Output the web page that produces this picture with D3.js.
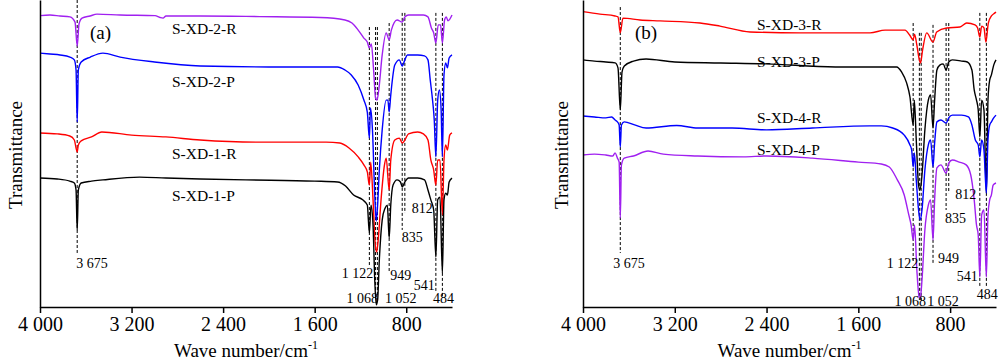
<!DOCTYPE html>
<html><head><meta charset="utf-8">
<script src="https://cdn.jsdelivr.net/npm/d3@7"></script>
<style>
body{margin:0;background:#fff}
svg{display:block}
text{font-family:"Liberation Serif","Times New Roman",serif;fill:#000}
</style>
</head><body>
<svg id="chart" width="1000" height="363"></svg>
<script>
// ---------- data (wavenumber cm^-1, transmittance offset a.u.) ----------
const xTicks = [4000, 3200, 2400, 1600, 800];

// Panel (a)
const xd2R = [[4000,94.9],[3913,95.1],[3825,94.8],[3738,94.5],[3694,92.8],[3675,85.0],[3659,92.2],[3633,94.1],[3563,94.8],[3502,95.4],[3300,95.1],[2995,94.9],[2951,94.3],[2925,94.1],[2899,94.8],[2600,94.8],[2080,94.6],[1550,94.3],[1335,93.5],[1274,92.5],[1220,90.2],[1170,87.6],[1140,86.3],[1122,84.4],[1105,85.7],[1085,77.2],[1068,68.1],[1055,67.4],[1040,70.7],[1010,82.1],[975,89.3],[949,87.0],[930,90.2],[880,93.5],[835,92.8],[812,94.5],[780,95.1],[650,95.1],[610,94.5],[580,90.9],[560,89.3],[541,86.0],[520,91.9],[500,91.9],[484,86.0],[465,93.5],[450,94.5],[435,93.2],[400,95.1]];
const xd2P = [[4000,82.7],[3913,82.4],[3825,82.1],[3738,81.4],[3700,80.5],[3685,77.2],[3675,60.3],[3665,77.2],[3640,79.8],[3560,81.4],[3450,82.7],[3300,81.4],[3000,79.8],[2600,78.5],[2000,78.2],[1400,78.2],[1335,77.2],[1280,75.6],[1220,72.3],[1170,67.4],[1140,63.5],[1122,55.0],[1112,64.8],[1095,57.7],[1075,36.5],[1062,28.0],[1050,33.2],[1035,44.6],[1010,57.7],[975,67.4],[960,67.4],[949,63.5],[935,69.1],[900,78.8],[860,80.5],[835,78.5],[812,80.5],[790,82.1],[700,82.1],[640,81.8],[610,80.5],[590,73.9],[570,67.4],[555,60.9],[541,48.9],[525,67.4],[510,70.7],[495,64.2],[484,48.9],[470,75.6],[455,79.5],[440,77.9],[425,81.1],[400,82.1]];
const xd1R = [[4000,56.7],[3850,56.4],[3740,55.7],[3700,54.4],[3685,51.8],[3675,50.5],[3665,52.8],[3640,54.1],[3550,55.4],[3460,57.0],[3200,56.0],[2900,55.4],[2600,54.4],[2100,53.7],[1500,53.7],[1380,53.4],[1300,51.8],[1220,48.9],[1170,46.3],[1140,44.0],[1122,39.7],[1110,47.2],[1090,34.9],[1070,20.2],[1058,17.9],[1045,21.8],[1020,34.9],[990,46.3],[975,48.5],[949,38.1],[935,47.9],[900,54.4],[860,55.0],[835,53.4],[812,54.4],[780,56.4],[700,57.0],[650,56.4],[610,54.4],[585,47.9],[560,44.6],[541,39.7],[525,47.9],[505,47.9],[484,30.0],[470,47.9],[455,52.8],[440,51.1],[420,56.0],[400,56.7]];
const xd1P = [[4000,42.0],[3850,41.7],[3740,41.0],[3700,40.4],[3685,38.1],[3675,25.1],[3665,38.1],[3640,40.4],[3550,41.0],[3450,41.4],[3130,42.3],[2900,42.0],[2600,41.7],[2200,41.4],[1600,41.0],[1400,40.7],[1330,39.4],[1260,36.5],[1180,34.9],[1140,33.2],[1122,24.1],[1108,33.2],[1090,26.7],[1075,8.8],[1062,0.7],[1050,2.3],[1035,15.3],[1010,28.3],[985,32.2],[965,33.2],[949,22.5],[935,33.2],[915,39.7],[880,41.4],[850,40.7],[835,39.1],[812,40.7],[780,42.0],[700,42.0],[640,41.4],[610,38.1],[585,34.9],[560,31.6],[541,16.3],[525,34.9],[505,35.8],[484,11.1],[470,34.9],[455,37.1],[440,36.5],[425,40.7],[400,42.0]];

// Panel (b)
const xd3R = [[4000,96.2],[3852,95.4],[3721,94.8],[3695,94.5],[3675,89.3],[3652,94.1],[3503,93.5],[3329,93.2],[2980,92.5],[2806,91.5],[2544,89.6],[2108,89.3],[1498,89.3],[1367,90.2],[1193,90.2],[1153,88.6],[1122,87.0],[1110,88.9],[1090,85.3],[1068,80.5],[1058,79.5],[1040,83.7],[1004,89.3],[949,86.3],[917,89.6],[830,90.9],[714,91.2],[655,92.5],[583,91.9],[560,90.9],[541,87.9],[525,91.5],[505,90.9],[488,86.3],[467,92.5],[440,94.8],[409,95.8],[400,96.1]];
const xd3P = [[4000,80.5],[3900,80.1],[3800,79.8],[3720,79.5],[3695,77.9],[3675,64.2],[3660,76.5],[3640,78.5],[3560,80.1],[3450,80.8],[3200,79.8],[2800,79.5],[2400,79.2],[1800,78.2],[1420,78.2],[1266,78.2],[1222,76.5],[1179,73.0],[1150,68.4],[1122,59.3],[1112,67.4],[1095,54.4],[1075,39.7],[1062,38.1],[1045,43.0],[1020,57.7],[990,67.4],[970,69.1],[949,58.3],[935,67.4],[915,77.2],[890,78.8],[860,79.2],[835,77.2],[812,79.8],[780,80.5],[700,80.1],[650,79.8],[610,77.2],[590,70.7],[570,67.4],[555,64.2],[541,55.4],[525,67.4],[505,64.2],[484,37.1],[470,67.4],[455,73.9],[440,75.6],[420,78.8],[400,80.5]];
const xd4R = [[4000,62.2],[3900,61.9],[3800,61.6],[3750,61.9],[3720,60.9],[3700,60.3],[3685,59.3],[3675,52.1],[3665,59.3],[3640,60.3],[3550,59.3],[3450,58.3],[3183,59.1],[3000,58.3],[2700,58.3],[2400,57.7],[2000,58.3],[1500,59.0],[1400,59.0],[1300,58.3],[1200,56.0],[1150,52.8],[1135,51.1],[1122,45.6],[1112,50.2],[1095,41.4],[1075,31.6],[1062,28.3],[1045,31.6],[1020,44.6],[990,52.8],[970,54.4],[949,45.6],[935,53.4],[915,60.3],[880,60.9],[835,59.9],[812,61.6],[780,62.5],[700,62.5],[640,61.9],[610,59.3],[580,54.4],[555,52.8],[541,48.9],[525,54.4],[505,51.1],[484,37.1],[470,54.4],[455,59.3],[440,60.3],[420,61.6],[400,62.5]];
const xd4P = [[4000,49.5],[3900,49.8],[3800,49.5],[3740,49.2],[3720,50.2],[3700,48.5],[3685,47.2],[3675,29.0],[3665,46.3],[3640,48.5],[3560,49.2],[3433,50.8],[3300,49.8],[3000,49.2],[2600,48.9],[2400,49.2],[2000,48.5],[1600,47.2],[1400,46.6],[1330,45.6],[1260,41.4],[1200,36.5],[1160,30.0],[1140,26.7],[1122,21.8],[1110,26.7],[1090,12.1],[1070,3.3],[1060,2.9],[1045,8.8],[1020,25.1],[990,33.2],[970,34.9],[949,21.8],[935,34.9],[915,45.3],[880,46.3],[835,43.6],[812,46.9],[780,47.9],[720,47.2],[660,46.3],[620,43.0],[590,34.9],[570,26.7],[555,23.5],[541,9.8],[525,30.0],[505,31.6],[484,9.8],[470,30.0],[455,34.9],[440,36.5],[425,39.7],[400,40.4]];

// Marked bands: [wavenumber, line top, line bottom] (a.u.)
const peaksA = [[3675,100,17.6],[1122,91.2,13.0],[1068,91.2,3.3],[1052,91.2,3.3],[949,92.5,11.1],[835,95.8,25.1],[812,95.8,30.6],[541,95.8,4.6],[484,95.8,3.3]];
const peaksB = [[3675,97.7,17.6],[1122,92.5,14.3],[1068,89.3,2.3],[1052,89.3,2.3],[949,91.9,14.3],[835,92.5,31.6],[812,92.5,37.1],[541,95.8,6.5],[484,95.8,6.5]];
const bandLabels = ["3 675","1 122","1 068","1 052","949","835","812","541","484"];

const seriesNamesA = ["S-XD-2-R","S-XD-2-P","S-XD-1-R","S-XD-1-P"];
const seriesNamesB = ["S-XD-3-R","S-XD-3-P","S-XD-4-R","S-XD-4-P"];

// ---------- layout / style ----------
const PURPLE = "#a020f0", BLUE = "#0000ff", RED = "#ff0000", BLACK = "#000000";
const svg = d3.select("#chart");
const axisY = 307;
const yScale = d3.scaleLinear().domain([0, 100]).range([axisY, 0]);
const fmt = d => d3.format(",")(d).replace(",", " ");

// label placement: [dx px, anchor, y (a.u.)]
const labelPosA = [[-1,"start",12.7],[4,"end",9.4],[2.5,"end",1.3],[7.6,"start",1.3],[1,"start",8.8],[-0.5,"start",21.2],[7,"start",30.6],[-1,"end",5.5],[-9.5,"start",1.3]];
const labelPosB = [[-7,"start",12.7],[5,"end",12.7],[6.7,"end",0.3],[6,"start",0.3],[5,"start",14.3],[-1,"start",27.4],[6.5,"start",35.2],[-2,"end",8.5],[-9.5,"start",2.6]];

const panels = [
  {x0:40, x1:452, series:[xd2R,xd2P,xd1R,xd1P], colors:[PURPLE,BLUE,RED,BLACK], names:seriesNamesA,
   nameX:172, nameY:[34,87,159,201], tag:"(a)", tagX:90, tagY:39, peaks:peaksA, lpos:labelPosA, ylabX:22},
  {x0:583, x1:996, series:[xd3R,xd3P,xd4R,xd4P], colors:[RED,BLACK,BLUE,PURPLE], names:seriesNamesB,
   nameX:757, nameY:[30,67,123,155], tag:"(b)", tagX:635, tagY:39, peaks:peaksB, lpos:labelPosB, ylabX:568}
];

panels.forEach(p => {
  const x = d3.scaleLinear().domain([4000, 400]).range([p.x0, p.x1]);
  const g = svg.append("g");

  // dashed band markers
  g.selectAll("line.band").data(p.peaks).join("line")
    .attr("class","band")
    .attr("x1", d => x(d[0])).attr("x2", d => x(d[0]))
    .attr("y1", d => yScale(d[1])).attr("y2", d => yScale(d[2]))
    .attr("stroke","#000").attr("stroke-width",1).attr("stroke-dasharray","3,2");

  // spectra
  const line = d3.line().x(d => x(d[0])).y(d => yScale(d[1])).curve(d3.curveMonotoneX);
  p.series.forEach((s, i) => {
    g.append("path").datum(s).attr("d", line)
      .attr("fill","none").attr("stroke", p.colors[i]).attr("stroke-width",1.4)
      .attr("stroke-linejoin","round");
  });

  // band labels
  g.selectAll("text.band").data(p.peaks).join("text")
    .attr("class","band")
    .attr("x", (d,i) => x(d[0]) + p.lpos[i][0])
    .attr("y", (d,i) => yScale(p.lpos[i][2]))
    .attr("text-anchor", (d,i) => p.lpos[i][1])
    .attr("font-size", 14)
    .text((d,i) => bandLabels[i]);

  // series names
  p.names.forEach((n, i) => {
    g.append("text").attr("x", p.nameX).attr("y", p.nameY[i]).attr("font-size", 15.5).text(n);
  });
  g.append("text").attr("x", p.tagX).attr("y", p.tagY).attr("font-size", 19).text(p.tag);

  // axes
  const xAxis = d3.axisBottom(x).tickValues(xTicks).tickFormat(fmt).tickSizeInner(6).tickSizeOuter(0).tickPadding(4);
  const ax = g.append("g").attr("transform", `translate(0,${axisY})`).call(xAxis);
  ax.select(".domain").attr("stroke","#000").attr("stroke-width",1.5);
  ax.selectAll(".tick line").attr("stroke","#000").attr("stroke-width",1.5);
  ax.selectAll(".tick text").attr("font-family",'"Liberation Serif",serif').attr("font-size",20).attr("fill","#000");

  const yAxis = d3.axisLeft(yScale).tickValues([]).tickSizeOuter(0);
  const ay = g.append("g").attr("transform", `translate(${p.x0},0)`).call(yAxis);
  ay.select(".domain").attr("stroke","#000").attr("stroke-width",1.5);

  // titles
  const t = g.append("text").attr("x", (p.x0 + p.x1) / 2).attr("y", 357)
    .attr("text-anchor","middle").attr("font-size",19);
  t.append("tspan").text("Wave number/cm");
  t.append("tspan").attr("dy",-8).attr("font-size",12).text("-1");

  g.append("text").attr("transform", `translate(${p.ylabX},155) rotate(-90)`)
    .attr("text-anchor","middle").attr("font-size",19).text("Transmittance");
});
</script>
</body></html>
